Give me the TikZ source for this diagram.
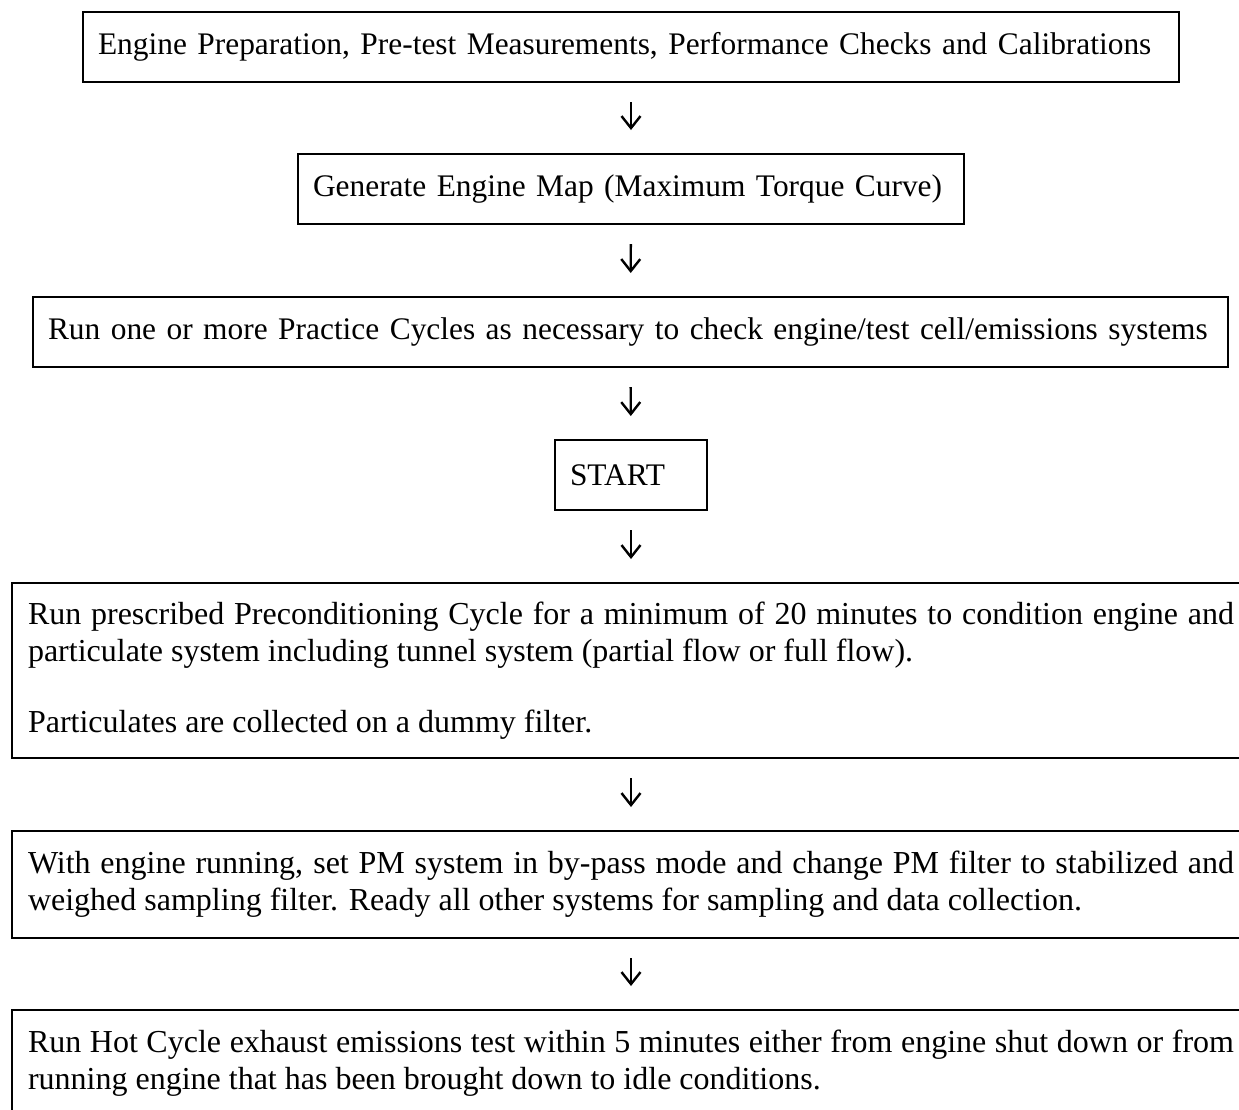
\documentclass[tikz,border=0pt]{standalone}
\usepackage{fontspec}
\setmainfont{Liberation Serif}
\usepackage{tikz}
\usetikzlibrary{arrows.meta,positioning}
\setlength{\parindent}{0pt}

\begin{document}
\begin{tikzpicture}[
  x=0.5pt, y=-0.5pt, %1 unit = 1 px
  every node/.append style={font=\fontsize{16}{18.5}\selectfont},
  stepbox/.style={draw, line width=1pt, anchor=north west, align=left,
    font=\fontsize{15.7}{18.5}\selectfont,
    inner xsep=7.5pt, inner ysep=0pt, minimum height=35pt},
  textbox/.style={draw, line width=1pt, anchor=north west, align=justify,
    inner xsep=8pt, inner ysep=0pt, text width=603pt},
  flow/.style={line width=1.2pt, -{Straight Barb[length=6pt,width=9.5pt]},
    shorten <=9.5pt, shorten >=11.5pt}
  ]
  \useasboundingbox (0,0) rectangle (1239,1110);
  \clip (0,0) rectangle (1239,1110);

  \node [stepbox, text width=533pt] (prep) at (82,11)
    {Engine Preparation, Pre-test Measurements, Performance Checks and Calibrations};
  \node [stepbox, text width=318pt] (map) at (297,153)
    {Generate Engine Map (Maximum Torque Curve)};
  \node [stepbox, text width=582.5pt] (practice) at (32,296)
    {Run one or more Practice Cycles as necessary to check engine/test cell/emissions systems};
  \node [stepbox, text width=61pt] (start) at (554,439) {START};
  \node [textbox, minimum height=87.5pt] (precond) at (11,582)
    {Run prescribed Preconditioning Cycle for a minimum of 20 minutes to condition engine and
     particulate system including tunnel system (partial flow or full flow).\par\vspace{17pt}
     Particulates are collected on a dummy filter.};
  \node [textbox, minimum height=53.5pt] (bypass) at (11,830)
    {With engine running, set PM system in by-pass mode and change PM filter to stabilized and
     weighed sampling filter. Ready all other systems for sampling and data collection.};
  \node [textbox, minimum height=53.5pt] (hot) at (11,1009)
    {Run Hot Cycle exhaust emissions test within 5 minutes either from engine shut down or from
     running engine that has been brought down to idle conditions.};

  \draw [flow] (prep) -- (map);
  \draw [flow] (map) -- (practice);
  \draw [flow] (practice) -- (start);
  \draw [flow] (start) -- (precond);
  \draw [flow] (precond) -- (bypass);
  \draw [flow] (bypass) -- (hot);

\end{tikzpicture}
\end{document}
